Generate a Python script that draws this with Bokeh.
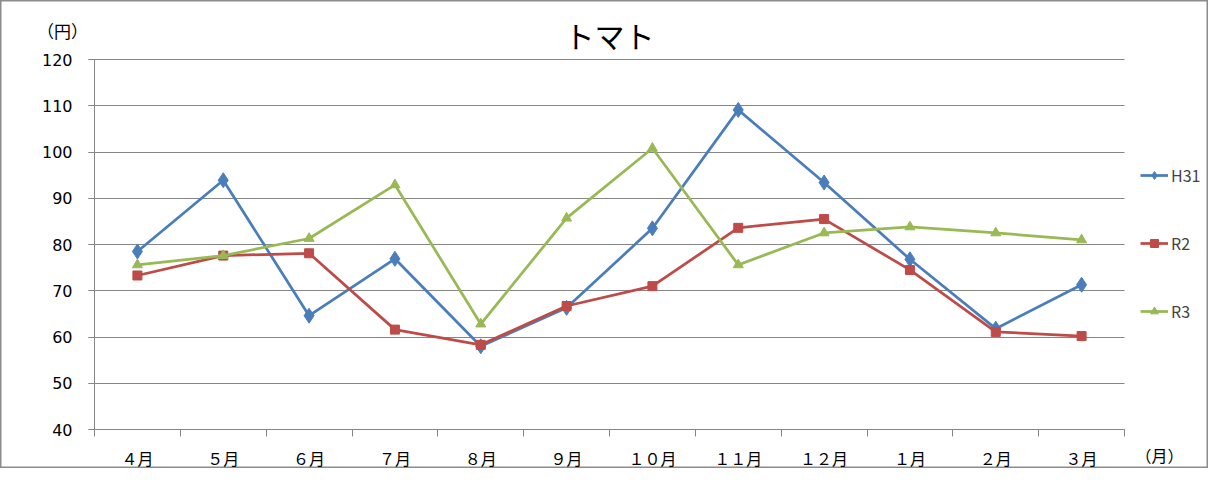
from bokeh.plotting import figure
from bokeh.models import FixedTicker, Legend, LegendItem, Label, Range1d
from bokeh.embed import file_html
from bokeh.resources import INLINE

months = ["４月", "５月", "６月", "７月", "８月", "９月", "１０月", "１１月", "１２月", "１月", "２月", "３月"]
h31 = [78.5, 93.9, 64.6, 76.9, 58.0, 66.3, 83.5, 109.1, 93.4, 76.8, 61.8, 71.3]
r2 = [73.3, 77.6, 78.1, 61.6, 58.3, 66.7, 71.0, 83.6, 85.5, 74.5, 61.1, 60.2]
r3 = [75.6, 77.6, 81.3, 92.9, 62.8, 85.7, 100.8, 75.6, 82.5, 83.8, 82.5, 81.0]
y_ticks = [40, 50, 60, 70, 80, 90, 100, 110, 120]
title = "トマト"
y_unit = "（円）"
x_unit = "（月）"

FONT = "Noto Sans CJK JP"
NUM_FONT = "DejaVu Sans"
GRID = "#868686"
W, H = 1208, 468
# plot area inside the figure (pixels)
L, R, T, B = 94, 1124, 59, 429
n = len(months)
ymin, ymax = y_ticks[0], y_ticks[-1]
xs = [i + 0.5 for i in range(n)]

px_x = (R - L) / n
px_y = (B - T) / (ymax - ymin)
x_range = Range1d(-L / px_x, n + (W - R) / px_x)
y_range = Range1d(ymin - (H - B) / px_y, ymax + T / px_y)


def dx(px):
    return (px - L) / px_x


def dy(py):
    return ymax + (T - py) / px_y


p = figure(width=W, height=H, output_backend="svg", toolbar_location=None,
           x_range=x_range, y_range=y_range,
           min_border_left=0, min_border_right=0, min_border_top=0, min_border_bottom=0,
           background_fill_color="white", border_fill_color="white")
p.outline_line_color = "#8c8c8c"
p.outline_line_width = 2

# axes (drawn at fixed data locations)
p.xaxis.fixed_location = ymin
p.xaxis.bounds = (0, n)
p.xaxis.ticker = FixedTicker(ticks=xs, minor_ticks=list(range(n + 1)))
p.xaxis.major_label_overrides = {x: m for x, m in zip(xs, months)}
p.xaxis.major_tick_line_color = None
p.xaxis.major_tick_out = 0
p.xaxis.major_tick_in = 0
p.xaxis.minor_tick_line_color = GRID
p.xaxis.minor_tick_out = 7
p.xaxis.minor_tick_in = 0
p.xaxis.axis_line_color = GRID
p.xaxis.major_label_standoff = 9
p.xaxis.major_label_text_font = FONT
p.xaxis.major_label_text_font_size = "16px"
p.xaxis.major_label_text_color = "black"

p.yaxis.fixed_location = 0
p.yaxis.bounds = (ymin, ymax)
p.yaxis.ticker = FixedTicker(ticks=y_ticks)
p.yaxis.minor_tick_line_color = None
p.yaxis.major_tick_line_color = GRID
p.yaxis.major_tick_out = 6
p.yaxis.major_tick_in = 0
p.yaxis.axis_line_color = GRID
p.yaxis.major_label_standoff = 16
p.yaxis.major_label_text_font = NUM_FONT
p.yaxis.major_label_text_font_size = "16px"
p.yaxis.major_label_text_color = "black"

p.xgrid.grid_line_color = None
p.ygrid.grid_line_color = GRID
p.ygrid.grid_line_width = 1
p.ygrid.bounds = (ymin, ymax)
p.ygrid.cross_bounds = (-6 / px_x, n)

series = [
    ("H31", h31, "#4A7EBB", "diamond", 15),
    ("R2", r2, "#BE4B48", "square", 9),
    ("R3", r3, "#98B954", "triangle", 10),
]
items = []
for name, vals, color, marker, size in series:
    ln = p.line(xs, vals, line_color=color, line_width=2.75)
    sc = p.scatter(xs, vals, marker=marker, size=size, fill_color=color, line_color=color)
    items.append(LegendItem(label=name, renderers=[ln, sc]))

legend = Legend(items=items, location=(1140, H - 323), margin=0, padding=0,
                spacing=44, glyph_width=28, glyph_height=20, label_height=20,
                label_standoff=3, label_text_font=FONT, label_text_font_size="16px",
                background_fill_alpha=0, border_line_color=None)
p.add_layout(legend, "center")

p.add_layout(Label(x=n / 2, y=dy(34), text=title, text_align="center",
                   text_baseline="middle", text_font=FONT, text_font_size="30px",
                   text_color="black"))
p.add_layout(Label(x=dx(62), y=dy(30), text=y_unit, text_align="center",
                   text_baseline="middle", text_font=FONT, text_font_size="17px",
                   text_color="black"))
p.add_layout(Label(x=dx(1159), y=dy(454), text=x_unit, text_align="center",
                   text_baseline="middle", text_font=FONT, text_font_size="16px",
                   text_color="black"))

open("out.html", "w").write(file_html(p, INLINE))
